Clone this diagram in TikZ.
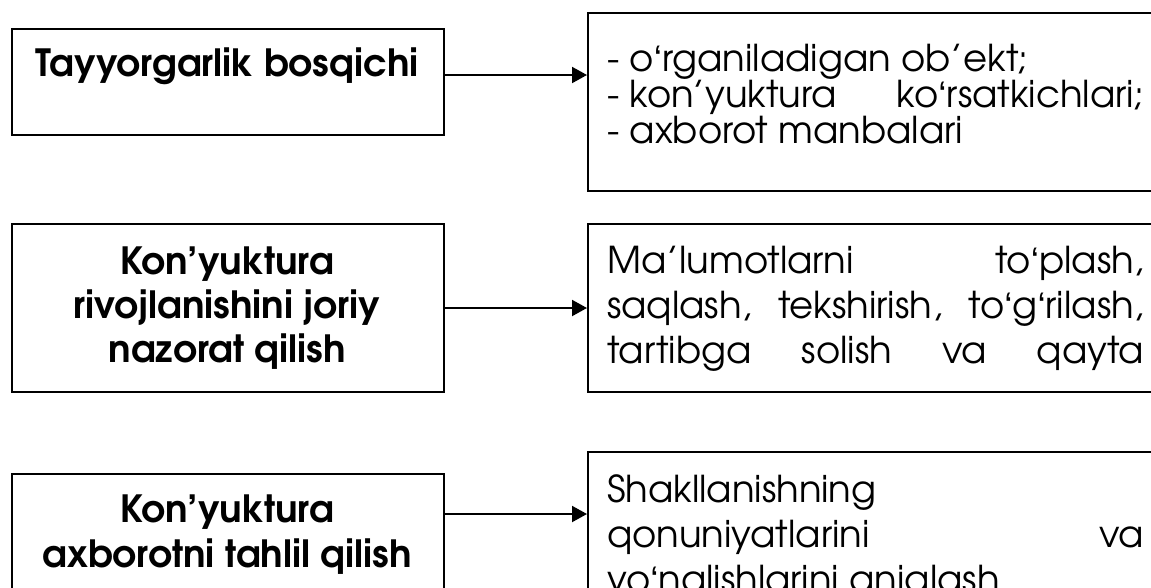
\documentclass[tikz,border=0pt]{standalone}
\usepackage{fontspec}
\setmainfont{texgyreadventor}[Extension=.otf, UprightFont=*-regular, BoldFont=*-bold]
\newfontfamily\quotefont{Liberation Sans}
\usetikzlibrary{arrows.meta}

% turned-comma letter sign used in o‘ and g‘
\newcommand{\oqt}{{\quotefont ‘}}

\begin{document}
\begin{tikzpicture}[x=1pt, y=-1pt,
  box/.style={draw=black, line width=2pt, inner sep=0pt, anchor=north west},
  arr/.style={line width=2pt, -{Triangle[length=15pt,width=16pt]}},
  ltxt/.style={font=\bfseries\fontsize{37.5}{44}\selectfont, inner sep=0pt, anchor=base},
  rtxt/.style={font=\fontsize{37}{45}\selectfont, inner sep=0pt, anchor=base west},
]
\newcommand{\jline}[1]{\makebox[537pt][s]{#1}}
\useasboundingbox (0,0) rectangle (1151,587);
\clip (0,0) rectangle (1151,587);
\fill[white] (0,0) rectangle (1151,587);

% left column: stages
\node[box, minimum width=432pt, minimum height=106pt] (t1) at (11,28) {};
\node[box, minimum width=432pt, minimum height=168pt] (t2) at (11,223) {};
\node[box, minimum width=432pt, minimum height=230pt] (t3) at (11,473) {};

% right column: descriptions
\node[box, minimum width=600pt, minimum height=178pt] (r1) at (587,12) {};
\node[box, minimum width=600pt, minimum height=168pt] (r2) at (587,223) {};
\node[box, minimum width=600pt, minimum height=250pt] (r3) at (587,451) {};

% stage titles
\node[ltxt] (t1a) at (227,76) {Tayyorgarlik bosqichi};
\node[ltxt] (t2a) at (227,274) {Kon’yuktura};
\node[ltxt] (t2b) at (227,318) {rivojlanishini joriy};
\node[ltxt] (t2c) at (227,362) {nazorat qilish};
\node[ltxt] (t3a) at (227,522) {Kon’yuktura};
\node[ltxt] (t3b) at (227,567) {axborotni tahlil qilish};

% description texts
\node[rtxt] (r1a) at (607,71) {- o\oqt rganiladigan ob’ekt;};
\node[rtxt] (r1b) at (607,107) {\jline{\mbox{- kon’yuktura} ko\oqt rsatkichlari;}};
\node[rtxt] (r1c) at (607,143) {- axborot manbalari};

\node[rtxt] (r2a) at (607,273) {\jline{Ma’lumotlarni to\oqt plash,}};
\node[rtxt] (r2b) at (607,318) {\jline{saqlash, tekshirish, to\oqt g\oqt rilash,}};
\node[rtxt] (r2c) at (607,363) {\jline{tartibga solish va qayta}};

\node[rtxt] (r3a) at (607,502) {Shakllanishning};
\node[rtxt] (r3b) at (607,547) {\jline{qonuniyatlarini va}};
\node[rtxt] (r3c) at (607,592) {yo\oqt nalishlarini aniqlash};

% connectors
\coordinate (a1) at (0,75);
\coordinate (a3) at (0,514);
\draw[arr] (t1.east |- a1) -- (r1.west |- a1);
\draw[arr] (t2.east) -- (t2.east -| r2.west);
\draw[arr] (t3.east |- a3) -- (r3.west |- a3);
\end{tikzpicture}
\end{document}
